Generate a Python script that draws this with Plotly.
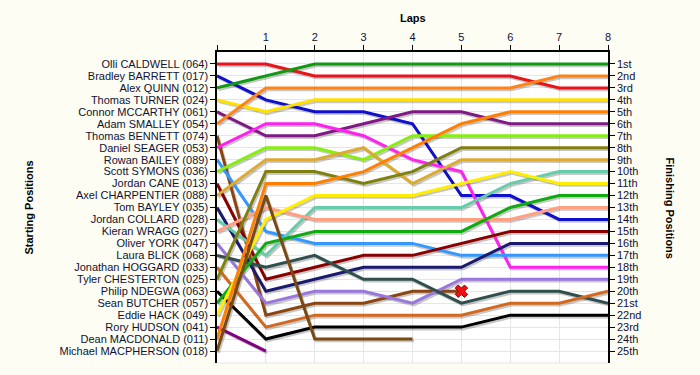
import plotly.graph_objects as go

laps = [0, 1, 2, 3, 4, 5, 6, 7, 8]

drivers = [
    "Olli CALDWELL (064)", "Bradley BARRETT (017)", "Alex QUINN (012)", "Thomas TURNER (024)",
    "Connor MCCARTHY (061)", "Adam SMALLEY (054)", "Thomas BENNETT (074)", "Daniel SEAGER (053)",
    "Rowan BAILEY (089)", "Scott SYMONS (036)", "Jordan CANE (013)", "Axel CHARPENTIER (088)",
    "Tom BAYLEY (035)", "Jordan COLLARD (028)", "Kieran WRAGG (027)", "Oliver YORK (047)",
    "Laura BLICK (068)", "Jonathan HOGGARD (033)", "Tyler CHESTERTON (025)", "Philip NDEGWA (063)",
    "Sean BUTCHER (057)", "Eddie HACK (049)", "Rory HUDSON (041)", "Dean MACDONALD (011)",
    "Michael MACPHERSON (018)",
]

positions = [
    [1, 1, 2, 2, 2, 2, 2, 3, 3],
    [2, 4, 5, 5, 6, 12, 12, 14, 14],
    [3, 2, 1, 1, 1, 1, 1, 1, 1],
    [4, 5, 4, 4, 4, 4, 4, 4, 4],
    [5, 7, 7, 6, 5, 5, 6, 6, 6],
    [6, 3, 3, 3, 3, 3, 3, 2, 2],
    [7, 22, 21, 21, 20, 20],
    [8, 6, 6, 7, 9, 10, 18, 18, 18],
    [9, 15, 16, 16, 16, 17, 17, 17, 17],
    [10, 8, 8, 9, 7, 7, 7, 7, 7],
    [11, 19, 18, 17, 17, 16, 15, 15, 15],
    [12, 9, 9, 8, 11, 9, 9, 9, 9],
    [13, 20, 19, 18, 18, 18, 16, 16, 16],
    [14, 17, 13, 13, 13, 13, 11, 10, 10],
    [15, 13, 14, 14, 14, 14, 14, 13, 13],
    [16, 21, 20, 20, 21, 19, 19, 19, 19],
    [17, 18, 17, 19, 19, 21, 20, 20, 21],
    [18, 23, 22, 22, 22, 22, 21, 21, 20],
    [19, 10, 10, 11, 10, 8, 8, 8, 8],
    [20, 24, 23, 23, 23, 23, 22, 22, 22],
    [21, 16, 15, 15, 15, 15, 13, 12, 12],
    [22, 14, 12, 12, 12, 11, 10, 11, 11],
    [23, 25],
    [24, 11, 11, 10, 8, 6, 5, 5, 5],
    [25, 12, 24, 24, 24],
]

colors = [
    "#E8141A", "#1010CC", "#119911", "#FFE000", "#7F1A84", "#FF8418", "#8B4513", "#FF22EE",
    "#3399FF", "#88EE11", "#880000", "#DDAA33", "#1A1A6E", "#66CCAA", "#FFA080", "#9977DD",
    "#2F4F4F", "#D2691E", "#808010", "#000000", "#11AA11", "#FFEE00", "#800080", "#FF8000",
    "#7B4A12",
]

retired_driver = "Thomas BENNETT (074)"
retired_lap = 5

ordinals = ["1st", "2nd", "3rd"] + [f"{i}th" for i in range(4, 21)] + ["21st", "22nd", "23rd", "24th", "25th"]
start_pos = list(range(1, 26))

fig = go.Figure()

# shadows
for d, pos in zip(drivers, positions):
    xs = [l + 0.03 for l in laps[:len(pos)]]
    ys = [p + 0.15 for p in pos]
    fig.add_trace(go.Scatter(x=xs, y=ys, mode="lines", line=dict(color="rgba(0,0,0,0.22)", width=3),
                             hoverinfo="skip", showlegend=False))

for d, pos, c in zip(drivers, positions, colors):
    fig.add_trace(go.Scatter(x=laps[:len(pos)], y=pos, mode="lines", name=d,
                             line=dict(color=c, width=3), showlegend=False))

ri = drivers.index(retired_driver)
fig.add_trace(go.Scatter(x=[retired_lap], y=[positions[ri][retired_lap]], mode="markers",
                         marker=dict(symbol="x", size=11, color="#EE1111",
                                     line=dict(color="#880000", width=1)),
                         showlegend=False))

# invisible trace for right axis
fig.add_trace(go.Scatter(x=[0], y=[1], yaxis="y2", mode="markers", marker=dict(opacity=0),
                         hoverinfo="skip", showlegend=False))

font = dict(family="Liberation Sans, Arial, sans-serif", size=11, color="#111133")
tfont = dict(family="Liberation Sans, Arial, sans-serif", size=11, color="black")

fig.update_layout(
    width=700, height=375,
    margin=dict(l=217, r=92, t=52, b=12),
    paper_bgcolor="#FDFDF3",
    plot_bgcolor="#FFFFFF",
    font=font,
    xaxis=dict(range=[0, 8], side="top", tickvals=laps, ticktext=[""] + [str(l) for l in laps[1:]],
               showgrid=True, gridcolor="#E6E6E6", gridwidth=1, zeroline=False, automargin=False,
               showline=True, linecolor="black", linewidth=1.5,
               ticks="outside", ticklen=5, tickcolor="black", tickfont=font),
    yaxis=dict(range=[26, 0], tickvals=start_pos, ticktext=drivers, automargin=False,
               showgrid=True, gridcolor="#E6E6E6", gridwidth=1, zeroline=False,
               showline=True, linecolor="black", linewidth=1.5,
               ticks="outside", ticklen=5, tickcolor="black", tickfont=font),
    yaxis2=dict(range=[26, 0], overlaying="y", side="right", tickvals=start_pos, ticktext=ordinals,
                showgrid=False, zeroline=False, showline=True, linecolor="black", linewidth=1.5,
                automargin=False, ticks="outside", ticklen=5, tickcolor="black", tickfont=font),
    annotations=[
        dict(text="<b>Laps</b>", xref="paper", yref="paper", x=0.5, y=1, yshift=42,
             showarrow=False, font=tfont),
        dict(text="<b>Starting Positions</b>", xref="paper", yref="paper", x=0, xshift=-197, y=0.5,
             textangle=-90, showarrow=False, font=tfont),
        dict(text="<b>Finishing Positions</b>", xref="paper", yref="paper", x=1, xshift=70, y=0.5,
             textangle=90, showarrow=False, font=tfont),
    ],
    shapes=[dict(type="line", xref="paper", yref="paper", x0=0, x1=1, y0=0, y1=0,
                 line=dict(color="#E6E6E6", width=1))],
)

fig.write_html("out.html", config={"displayModeBar": False},
               post_script="document.body.style.margin='0';document.body.style.background='#FDFDF3';")
